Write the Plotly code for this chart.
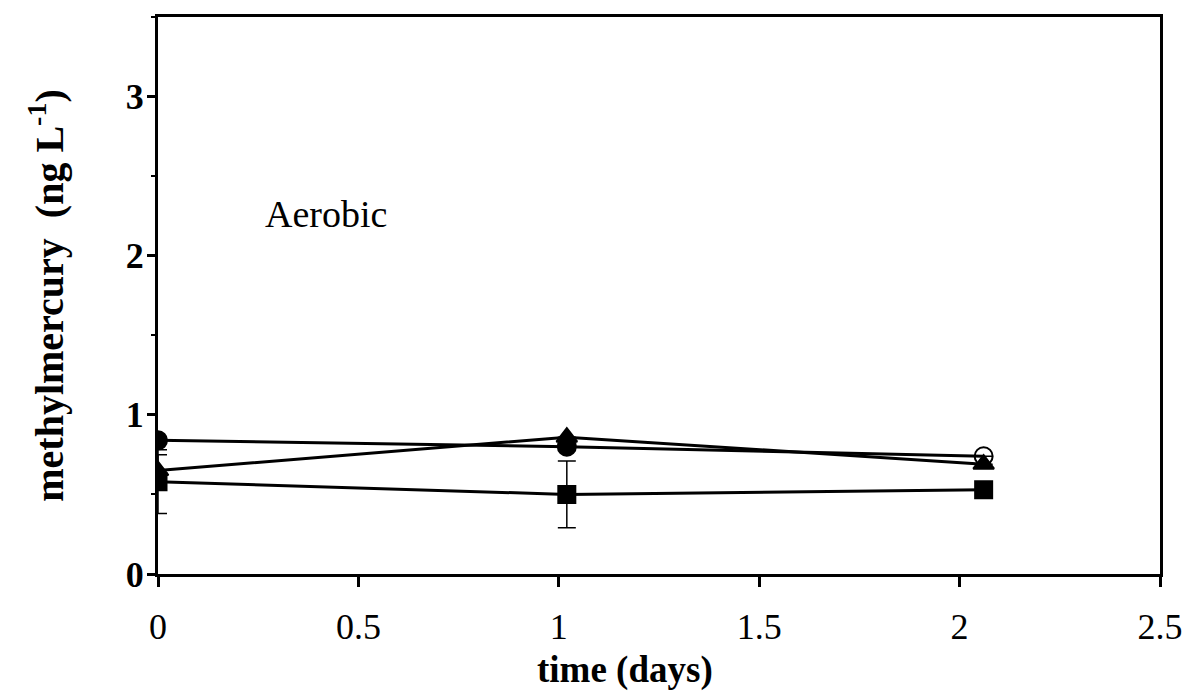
import plotly.graph_objects as go

# Data
time_days = [0.0, 1.02, 2.06]
circle_vals = [0.84, 0.80, 0.74]
triangle_vals = [0.65, 0.86, 0.69]
square_vals = [0.58, 0.50, 0.53]
circle_err = [0.0, 0.0, 0.0]
triangle_err = [0.10, 0.0, 0.0]
square_err = [0.20, 0.21, 0.0]

x_ticks = [0, 0.5, 1, 1.5, 2, 2.5]
x_ticklabels = ["0", "0.5", "1", "1.5", "2", "2.5"]
y_ticks = [0, 1, 2, 3]
y_ticklabels = ["<b>0</b>", "<b>1</b>", "<b>2</b>", "<b>3</b>"]

FONT = "Liberation Serif"

fig = go.Figure()

def add_series(y, err, symbol, size):
    fig.add_trace(go.Scatter(
        x=time_days, y=y, mode="lines+markers",
        line=dict(color="black", width=3),
        marker=dict(symbol=symbol, size=size, color="black",
                    line=dict(color="black", width=2)),
        error_y=dict(type="data", array=err, visible=True,
                     color="black", thickness=1.5, width=9),
        showlegend=False,
    ))

add_series(square_vals, square_err, "square", 17)
add_series(triangle_vals, triangle_err, "triangle-up", 18)
add_series(circle_vals, circle_err, ["circle", "circle", "circle-open"], 18)

fig.add_annotation(x=0.42, y=2.26, xref="x", yref="y", text="Aerobic",
                   showarrow=False, font=dict(family=FONT, size=38, color="black"))

fig.add_annotation(x=0.466, y=-0.172, xref="paper", yref="paper", text="<b>time (days)</b>",
                   xanchor="center", yanchor="middle", borderpad=0,
                   showarrow=False, font=dict(family=FONT, size=37, color="black"))

fig.update_layout(
    width=1190, height=697,
    margin=dict(l=158, r=30, t=17, b=123),
    paper_bgcolor="white", plot_bgcolor="white",
    font=dict(family=FONT, color="black"),
    xaxis=dict(
        range=[0, 2.5], tickvals=x_ticks, ticktext=x_ticklabels,
        showgrid=False, zeroline=False, showline=True, linecolor="black",
        linewidth=3, ticks="outside", ticklen=10, tickwidth=3, tickcolor="black",
        mirror=True, automargin=False,
        tickfont=dict(family=FONT, size=36, color="black"),
        ticklabelstandoff=9,
    ),
    yaxis=dict(
        range=[0, 3.5], tickvals=y_ticks, ticktext=y_ticklabels,
        showgrid=False, zeroline=False, showline=True, linecolor="black",
        linewidth=3, ticks="outside", ticklen=8, tickwidth=3, tickcolor="black",
        mirror=True, automargin=False,
        tickfont=dict(family=FONT, size=36, color="black"),
        ticklabelstandoff=-4,
        minor=dict(dtick=0.5, ticks="outside", ticklen=4, tickwidth=2, tickcolor="black"),
        title=dict(text="<b>methylmercury  (ng L<sup>-1</sup>)</b>",
                   font=dict(family=FONT, size=40, color="black"), standoff=50),
    ),
)

fig.write_html("out.html")
